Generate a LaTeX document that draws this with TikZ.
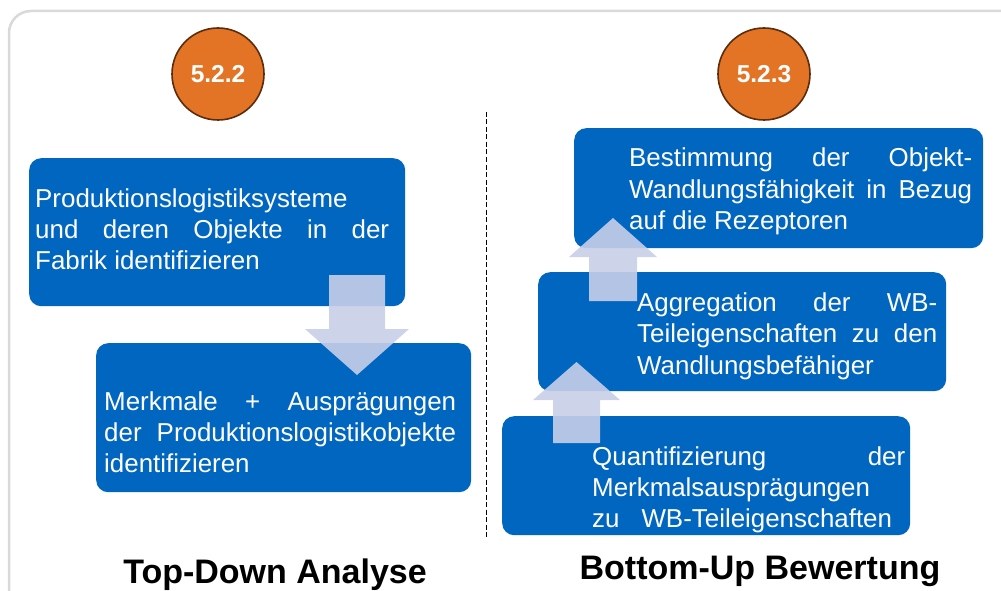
\documentclass[tikz,border=0pt]{standalone}
\usepackage{fontspec}
\setmainfont{Liberation Sans}
\definecolor{boxblue}{RGB}{0,102,192}
\definecolor{badgeorange}{RGB}{227,116,38}
\definecolor{badgerim}{RGB}{92,45,12}
\definecolor{framegray}{RGB}{217,217,217}
\definecolor{arrowfill}{RGB}{200,207,232}
\tolerance=10000
\hbadness=10000
\hyphenpenalty=10000
\exhyphenpenalty=10000
\begin{document}
\begin{tikzpicture}[x=1pt,y=-1pt,
  stepbox/.style={fill=boxblue, rounded corners=12pt, inner sep=0pt, anchor=north west},
  steptext/.style={anchor=base west, inner sep=0pt, text=white, align=justify,
    font=\fontsize{25.9pt}{31.3pt}\selectfont},
  badge/.style={circle, fill=badgeorange, draw=badgerim, line width=1.6pt,
    minimum size=92pt, inner sep=0pt, text=white,
    font=\fontsize{24.5pt}{28pt}\selectfont\bfseries},
  heading/.style={anchor=base, inner sep=0pt, text=black,
    font=\fontsize{34pt}{40pt}\selectfont\bfseries},
  blockarrow/.style={fill=arrowfill, fill opacity=0.9},
  divider/.style={black, line width=1pt, dash pattern=on 5pt off 2.5pt},
]
\useasboundingbox (0,0) rectangle (1001,591);

% outer frame, running past the right and bottom edges
\begin{scope}
  \clip (0,0) rectangle (1001,591);
  \draw[framegray, line width=2.5pt, rounded corners=22pt] (9,11) rectangle (1040,640);
\end{scope}

% section badges
\node[badge] (n1) at (218,74) {5.2.2};
\node[badge] (n2) at (764,74) {5.2.3};

% divider between the two halves
\coordinate (d1) at (486,112);
\coordinate (d2) at (486,538);
\draw[divider] (d1) -- (d2);

% step boxes
\node[stepbox, minimum width=376pt, minimum height=148pt] (b1) at (29,158) {};
\node[stepbox, minimum width=375pt, minimum height=149pt] (b2) at (96,343) {};
\node[stepbox, minimum width=409pt, minimum height=120pt] (bA) at (574,128) {};
\node[stepbox, minimum width=408pt, minimum height=119pt] (bB) at (538,272) {};
\node[stepbox, minimum width=408pt, minimum height=119pt] (bC) at (502,416) {};

% block arrows between the steps
\path[blockarrow] (329,275) -- (385,275) -- (385,329) -- (409,329) -- (357,375)
  -- (305,329) -- (329,329) -- cycle;
\path[blockarrow] (553,443) -- (600,443) -- (600,400) -- (620,400) -- (576.5,362)
  -- (533,400) -- (553,400) -- cycle;
\path[blockarrow] (589,301) -- (637,301) -- (637,257) -- (657,257) -- (613,218)
  -- (569,257) -- (589,257) -- cycle;

% step texts
\node[steptext, text width=354pt] (t1) at (35,207)
  {Produktionslogistiksysteme\newline
   und deren Objekte in der\linebreak
   Fabrik identifizieren};
\node[steptext, text width=352pt] (t2) at (104,410)
  {Merkmale + Ausprägungen\linebreak
   der Produktionslogistikobjekte\linebreak
   identifizieren};
\node[steptext, text width=343pt] (tA) at (629,167)
  {Bestimmung der Objekt-\linebreak
   Wandlungsfähigkeit in Bezug\linebreak
   auf die Rezeptoren};
\node[steptext, text width=300pt] (tB) at (637,311.5)
  {Aggregation der WB-\linebreak
   Teileigenschaften zu den\linebreak
   Wandlungsbefähiger};
\node[steptext, text width=313pt] (tC) at (592,465)
  {Quantifizierung der\linebreak
   Merkmalsausprägungen\newline
   zu\hspace{22pt}WB-Teileigenschaften};

% headings
\node[heading] (h1) at (275,583) {Top-Down Analyse};
\node[heading] (h2) at (760,579) {Bottom-Up Bewertung};
\end{tikzpicture}
\end{document}
